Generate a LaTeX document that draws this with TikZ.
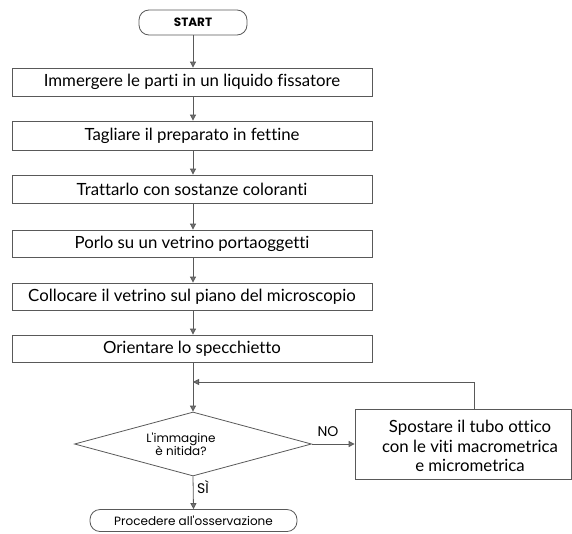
\documentclass[tikz,border=0pt]{standalone}
\usepackage{fontspec}
\setmainfont{Lato}[Ligatures={NoCommon,NoRequired,NoContextual}]
\newfontfamily\geo{Poppins}
\usetikzlibrary{arrows.meta,shapes.geometric}
\begin{document}
\begin{tikzpicture}[x=1pt,y=-1pt,
  ln/.style={draw=black!65, line width=0.8pt},
  arr/.style={ln, -{Triangle[length=6pt,width=6pt,fill=black!55]}},
  stepbox/.style={ln, rectangle, minimum width=360pt, minimum height=28pt, inner sep=0pt, font=\fontsize{16.8}{19}\selectfont},
  term/.style={ln, rectangle, rounded corners=10pt, inner sep=0pt},
  geolbl/.style={font=\geo\fontsize{12}{13}\selectfont, inner sep=0pt, align=center},
  biglbl/.style={font=\geo\fontsize{14}{16}\selectfont, inner sep=0pt},
  handlbl/.style={font=\fontsize{16.8}{19.5}\selectfont, inner sep=0pt, align=center}]
\useasboundingbox (0,0) rectangle (572,533);
% terminals
\node[term, minimum width=108pt, minimum height=25pt, font=\geo\bfseries\fontsize{12}{14}\selectfont] (start) at (193,22.5) {START};
% steps
\node[stepbox] (b1) at (192,82) {Immergere le parti in un liquido fissatore};
\node[stepbox, minimum height=29pt] (b2) at (192,135.5) {Tagliare il preparato in fettine};
\node[stepbox] (b3) at (192,189) {Trattarlo con sostanze coloranti};
\node[stepbox, minimum height=27pt] (b4) at (192,243.5) {Porlo su un vetrino portaoggetti};
\node[stepbox, minimum height=27pt] (b5) at (192,296.5) {Collocare il vetrino sul piano del microscopio};
\node[stepbox, minimum height=27pt] (b6) at (192,348.5) {Orientare lo specchietto};
% decision
\node[ln, diamond, minimum width=237pt, minimum height=64pt, inner sep=0pt] (dec) at (193,444) {};
\node[geolbl] (dect) at (181,444) {L'immagine\\è nitida?};
% right box
\node[ln, rectangle, minimum width=216pt, minimum height=70pt, inner sep=0pt] (rb) at (463,444) {};
\node[handlbl] (rbt) at (470,446) {Spostare il tubo ottico\\con le viti macrometrica\\e micrometrica};
% end
\node[term, minimum width=207pt, minimum height=22pt, font=\geo\fontsize{12}{14}\selectfont] (fin) at (193.5,520.5) {Procedere all'osservazione};
% labels
\node[biglbl] (no) at (328,432) {NO};
\node[biglbl] (si) at (203,487) {SÌ};
% connectors
\draw[arr] (start.south) -- (start.south |- b1.north);
\draw[arr] (b1.south -| start) -- (b2.north -| start);
\draw[arr] (b2.south -| start) -- (b3.north -| start);
\draw[arr] (b3.south -| start) -- (b4.north -| start);
\draw[arr] (b4.south -| start) -- (b5.north -| start);
\draw[arr] (b5.south -| start) -- (b6.north -| start);
\draw[arr] (b6.south -| start) -- (dec.north);
\coordinate (lp) at (474,382);
\draw[arr] (rb.north -| lp) -- (lp) -- (lp -| start);
\draw[arr] (dec.east) -- (rb.west);
\draw[arr] (dec.south) -- (fin.north);
\end{tikzpicture}
\end{document}
